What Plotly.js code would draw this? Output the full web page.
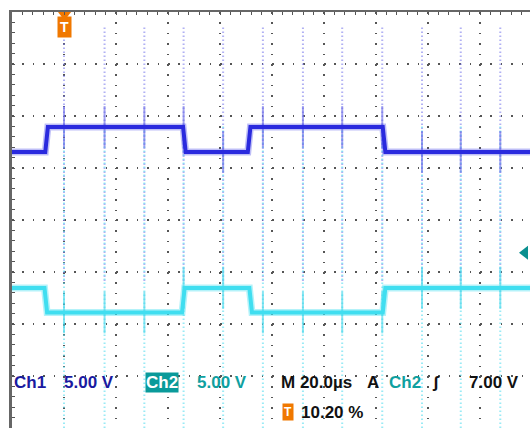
<!DOCTYPE html>
<html>
<head>
<meta charset="utf-8">
<script src="https://cdn.plot.ly/plotly-3.0.1.min.js"></script>
<style>html,body{margin:0;padding:0;background:#fff}#chart{width:530px;height:430px}</style>
</head>
<body>
<div id="chart"></div>
<script>
// ---- data (time in µs, vertical in screen divisions from centre) ----
const spikeTimes = [20.0, 35.6, 50.9, 66.0, 81.2, 96.5, 111.9, 127.0, 142.4, 157.7, 172.6, 187.8];
const ch1Edges = [13.3, 66.3, 91.2, 143.1];
const ch1Levels = [1.31, 1.79];      // low, high
const ch1StartHigh = false;
const ch2Edges = [13.0, 65.9, 91.8, 143.1];
const ch2Levels = [-1.78, -1.31];    // low, high
const ch2StartHigh = true;
const triggerTime = 20.2;
const triggerLevel = -0.63;
const labelsLine1 = ["Ch1", "5.00 V", "Ch2", "5.00 V", "M 20.0µs", "A", "Ch2", "ʃ", "7.00 V"];
const labelsLine2 = ["T", "10.20 %"];

const tEnd = 200, edgeW = 1.0;

function stepWave(edges, levels, startHigh) {
  const x = [0], y = [];
  let hi = startHigh;
  y.push(levels[hi ? 1 : 0]);
  edges.forEach(e => {
    x.push(e - edgeW / 2); y.push(levels[hi ? 1 : 0]);
    hi = !hi;
    x.push(e + edgeW / 2); y.push(levels[hi ? 1 : 0]);
  });
  x.push(tEnd); y.push(levels[hi ? 1 : 0]);
  return {x, y};
}
function levelAt(t, edges, levels, startHigh) {
  let hi = startHigh;
  edges.forEach(e => { if (t > e) hi = !hi; });
  return levels[hi ? 1 : 0];
}
function spikes(y0, y1) {
  const x = [], y = [];
  spikeTimes.forEach(t => { x.push(t, t, null); y.push(y0, y1, null); });
  return {x, y};
}
function glitches(edges, levels, startHigh, h) {
  const x = [], y = [];
  spikeTimes.forEach(t => {
    const l = levelAt(t, edges, levels, startHigh);
    x.push(t, t, null); y.push(l - h, l + h, null);
  });
  return {x, y};
}

const w1 = stepWave(ch1Edges, ch1Levels, ch1StartHigh);
const w2 = stepWave(ch2Edges, ch2Levels, ch2StartHigh);
const sp1 = spikes(3.7, -1.2);
const sp2 = spikes(1.8, -4);
const g1 = glitches(ch1Edges, ch1Levels, ch1StartHigh, 0.4);
const g2 = glitches(ch2Edges, ch2Levels, ch2StartHigh, 0.4);

const blue = '#2a2ade', cyan = '#40def0';
const traces = [
  {x: sp1.x, y: sp1.y, mode: 'lines', line: {color: 'rgba(125,125,235,0.6)', width: 2, dash: '1.5px,2.5px'}, hoverinfo: 'skip'},
  {x: sp2.x, y: sp2.y, mode: 'lines', line: {color: 'rgba(100,222,240,0.65)', width: 2, dash: '1.5px,2.5px'}, hoverinfo: 'skip'},
  {x: g1.x, y: g1.y, mode: 'lines', line: {color: 'rgba(100,100,230,0.6)', width: 2}, hoverinfo: 'skip'},
  {x: g2.x, y: g2.y, mode: 'lines', line: {color: 'rgba(70,215,235,0.65)', width: 2}, hoverinfo: 'skip'},
  {x: w1.x, y: w1.y, mode: 'lines', line: {color: 'rgba(70,70,232,0.35)', width: 7}, hoverinfo: 'skip'},
  {x: w1.x, y: w1.y, mode: 'lines', line: {color: blue, width: 4}, hoverinfo: 'skip'},
  {x: w2.x, y: w2.y, mode: 'lines', line: {color: 'rgba(64,222,240,0.4)', width: 7}, hoverinfo: 'skip'},
  {x: w2.x, y: w2.y, mode: 'lines', line: {color: cyan, width: 4}, hoverinfo: 'skip'},
  {x: [triggerTime], y: [3.95], mode: 'markers', marker: {symbol: 'triangle-down', size: 12, color: '#f07800'}, cliponaxis: false, hoverinfo: 'skip'},
  {x: [197.3], y: [triggerLevel], mode: 'markers', marker: {symbol: 'triangle-left', size: 12, color: '#0a9090'}, cliponaxis: false, hoverinfo: 'skip'}
];

const L = 12, T = 12, PW = 518, PH = 416;
const px = v => (v - L) / PW;
const py = v => (T + PH - v) / PH;
const FAM = 'Liberation Sans';
function ann(text, x, y, color, size, extra) {
  return Object.assign({text, x: px(x), y: py(y), xref: 'paper', yref: 'paper', xanchor: 'left', yanchor: 'middle',
    showarrow: false, font: {family: FAM, size: size, color, weight: 'bold'}}, extra || {});
}
const dk = '#1a1aa0', teal = '#0fa0a0', blk = '#111';
const y1 = 382, y2 = 412;
const annotations = [
  ann(labelsLine1[0], 12, y1, dk, 17),
  ann(labelsLine1[1], 62, y1, dk, 17),
  ann(labelsLine1[2], 145, y1, '#fff', 17, {bgcolor: '#0a9a9a', borderpad: 0}),
  ann(labelsLine1[3], 195, y1, teal, 17),
  ann(labelsLine1[4], 279, y1, blk, 17),
  ann(labelsLine1[5], 365, y1, blk, 17),
  ann(labelsLine1[6], 387, y1, teal, 17),
  ann(labelsLine1[7], 430, y1, blk, 17),
  ann(labelsLine1[8], 467, y1, blk, 17),
  ann(labelsLine2[0], 282, y2, '#fff', 12, {bgcolor: '#f07800', borderpad: 1}),
  ann(labelsLine2[1], 299, y2, blk, 17),
  {text: 'T', x: triggerTime, xref: 'x', y: py(27), yref: 'paper', xanchor: 'center', yanchor: 'middle', showarrow: false,
   bgcolor: '#f07800', borderpad: 2, font: {family: FAM, size: 14, color: '#fff', weight: 'bold'}}
];

const layout = {
  width: 530, height: 430,
  margin: {l: L, r: 530 - L - PW, t: T, b: 430 - T - PH, pad: 0},
  paper_bgcolor: '#fff', plot_bgcolor: '#fff',
  showlegend: false,
  xaxis: {range: [0, 200 * PW / 520], dtick: 20, tick0: 0, side: 'top', showticklabels: false,
    showgrid: true, gridcolor: '#555', gridwidth: 1.5, griddash: '1.5px,8.9px', zeroline: false,
    showline: true, linecolor: '#666', linewidth: 2, ticks: 'inside', ticklen: 3, tickcolor: '#555',
    minor: {dtick: 4, ticks: 'inside', ticklen: 3, tickcolor: '#555', showgrid: false}},
  yaxis: {range: [-4, 4], dtick: 1, tick0: 0, showticklabels: false,
    showgrid: true, gridcolor: '#555', gridwidth: 1.5, griddash: '1.5px,8.9px', zeroline: false,
    showline: true, linecolor: '#666', linewidth: 3, ticks: 'inside', ticklen: 3, tickcolor: '#555',
    minor: {dtick: 0.2, ticks: 'inside', ticklen: 3, tickcolor: '#555', showgrid: false}},
  annotations
};
Plotly.newPlot('chart', traces, layout, {staticPlot: true, displayModeBar: false});
</script>
</body>
</html>
